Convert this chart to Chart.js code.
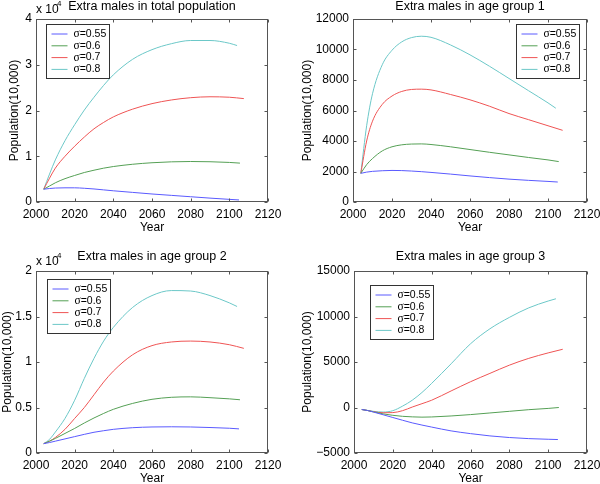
<!DOCTYPE html>
<html>
<head>
<meta charset="utf-8">
<script src="https://cdn.jsdelivr.net/npm/chart.js@4"></script>
<style>
  html, body { margin: 0; padding: 0; background: #fff; overflow: hidden; }
  body { width: 600px; height: 484px; position: relative; }
  canvas { position: absolute; }
</style>
</head>
<body>
<canvas id="c1" width="300" height="260" style="left:0;top:0"></canvas>
<canvas id="c2" width="300" height="260" style="left:300px;top:0"></canvas>
<canvas id="c3" width="300" height="260" style="left:0;top:242px"></canvas>
<canvas id="c4" width="300" height="260" style="left:300px;top:242px"></canvas>
<script>
// years sampled on every curve; the last value of each series sits at its own end year
const years = [2004, 2007, 2010, 2015, 2020, 2025, 2030, 2035, 2040, 2050, 2060, 2070, 2080, 2090, 2100];
const lastYears = [2105, 2105.5, 2107.5, 2104];
const sigmaLabels = ['σ=0.55', 'σ=0.6', 'σ=0.7', 'σ=0.8'];
const yearTicks = [2000, 2020, 2040, 2060, 2080, 2100, 2120];

// extra males in total population
const total055 = [2800, 2950, 3050, 3100, 3100, 3000, 2850, 2650, 2450, 2100, 1750, 1450, 1150, 850, 580, 450];
const total06  = [2800, 3500, 4200, 5100, 5800, 6450, 6950, 7400, 7750, 8250, 8580, 8780, 8850, 8800, 8650, 8500];
const total07  = [2800, 5200, 7400, 10000, 12200, 14200, 16000, 17400, 18600, 20300, 21500, 22300, 22800, 23000, 22900, 22600];
const total08  = [2800, 6100, 9200, 13400, 16900, 20100, 22900, 25500, 27800, 31200, 33300, 34600, 35300, 35300, 34700, 34200];

// extra males in age group 1
const group1_055 = [1880, 1960, 2010, 2050, 2070, 2060, 2030, 1990, 1940, 1830, 1710, 1600, 1500, 1420, 1350, 1310];
const group1_06  = [1880, 2450, 2850, 3350, 3620, 3750, 3800, 3810, 3770, 3620, 3440, 3260, 3090, 2920, 2760, 2650];
const group1_07  = [1880, 4000, 5300, 6400, 6950, 7250, 7380, 7400, 7350, 7050, 6700, 6280, 5800, 5400, 5000, 4700];
const group1_08  = [1880, 5000, 7100, 9000, 9950, 10500, 10780, 10870, 10800, 10300, 9650, 8900, 8100, 7300, 6500, 6150];

// extra males in age group 2
const group2_055 = [1030, 1150, 1300, 1550, 1800, 2050, 2280, 2450, 2600, 2780, 2860, 2880, 2860, 2800, 2720, 2650];
const group2_06  = [1030, 1300, 1600, 2150, 2700, 3300, 3850, 4350, 4800, 5450, 5900, 6120, 6170, 6080, 5950, 5850];
const group2_07  = [1030, 1300, 1700, 2600, 3800, 5000, 6400, 7800, 9000, 10800, 11800, 12200, 12300, 12200, 11900, 11500];
const group2_08  = [1030, 1500, 2300, 3800, 5800, 8200, 10400, 12300, 13800, 16000, 17300, 17850, 17800, 17300, 16500, 16100];

// extra males in age group 3
const group3_055 = [-220, -330, -500, -800, -1100, -1400, -1690, -1930, -2150, -2570, -2870, -3120, -3300, -3420, -3490, -3520];
const group3_06  = [-220, -330, -480, -700, -860, -970, -1030, -1060, -1040, -930, -780, -600, -420, -240, -100, 0];
const group3_07  = [-220, -330, -460, -580, -560, -350, 50, 420, 800, 1820, 2830, 3750, 4650, 5400, 6000, 6400];
const group3_08  = [-220, -320, -420, -500, -350, 150, 800, 1650, 2650, 4800, 7000, 8650, 9900, 10950, 11700, 11950];

const lineColors = ['#5a5aff', '#55a055', '#ef5454', '#6cc8c8'];

Chart.defaults.font.family = '"Liberation Sans", Arial, sans-serif';
Chart.defaults.color = '#000';

function points(vals, i) {
  return vals.map((v, k) => ({ x: k < years.length ? years[k] : lastYears[i], y: v }));
}

// box around the axes with small inward ticks on all four sides
const framePlugin = {
  id: 'frame',
  afterDatasetsDraw(chart) {
    const { ctx, chartArea: a, scales } = chart;
    const L = Math.round(a.left) + 0.5, R = Math.round(a.right) - 0.5;
    const T = Math.round(a.top) + 0.5, B = Math.round(a.bottom) - 0.5;
    ctx.save();
    ctx.strokeStyle = '#555';
    ctx.lineWidth = 1;
    ctx.strokeRect(L, T, R - L, B - T);
    ctx.beginPath();
    scales.x.ticks.forEach(t => {
      const px = Math.round(scales.x.getPixelForValue(t.value)) + 0.5;
      ctx.moveTo(px, B); ctx.lineTo(px, B - 3);
      ctx.moveTo(px, T); ctx.lineTo(px, T + 3);
    });
    scales.y.ticks.forEach(t => {
      const py = Math.round(scales.y.getPixelForValue(t.value)) + 0.5;
      ctx.moveTo(L, py); ctx.lineTo(L + 3, py);
      ctx.moveTo(R, py); ctx.lineTo(R - 3, py);
    });
    ctx.stroke();
    ctx.restore();
  }
};

function legendPlugin(pos) {
  return {
    id: 'boxLegend',
    afterDraw(chart) {
      const { ctx, chartArea: a } = chart;
      const w = 63, h = 54;
      const x0 = Math.round(pos.fromRight !== undefined ? a.right - pos.fromRight - w : a.left + pos.dx) + 0.5;
      const y0 = Math.round(a.top + pos.dy) + 0.5;
      ctx.save();
      ctx.fillStyle = '#fff';
      ctx.fillRect(x0, y0, w, h);
      ctx.strokeStyle = '#333';
      ctx.lineWidth = 1;
      ctx.strokeRect(x0, y0, w, h);
      chart.data.datasets.forEach((ds, i) => {
        const yy = y0 + 9.5 + i * 11.8;
        ctx.strokeStyle = ds.borderColor;
        ctx.beginPath();
        ctx.moveTo(x0 + 5, yy);
        ctx.lineTo(x0 + 21, yy);
        ctx.stroke();
        ctx.fillStyle = '#000';
        ctx.textBaseline = 'middle';
        ctx.font = '11.5px "Liberation Serif", serif';
        ctx.fillText(ds.label.charAt(0), x0 + 27, yy);
        const sw = ctx.measureText(ds.label.charAt(0)).width;
        ctx.font = '10.5px "Liberation Sans", Arial, sans-serif';
        ctx.fillText(ds.label.slice(1), x0 + 27 + sw, yy);
      });
      ctx.restore();
    }
  };
}

const exponentPlugin = {
  id: 'exponent',
  afterDraw(chart) {
    const { ctx, chartArea: a } = chart;
    ctx.save();
    ctx.fillStyle = '#000';
    ctx.textBaseline = 'middle';
    ctx.font = '12px "Liberation Sans", Arial, sans-serif';
    ctx.fillText('x 10', a.left, a.top - 9);
    ctx.font = '8px "Liberation Sans", Arial, sans-serif';
    ctx.fillText('4', a.left + 21, a.top - 15);
    ctx.restore();
  }
};

function makeChart(id, cfg) {
  const plugins = [framePlugin, legendPlugin(cfg.legend)];
  if (cfg.exponent) plugins.push(exponentPlugin);
  const titleTop = cfg.top > 20 ? 8 : 0;
  return new Chart(document.getElementById(id), {
    type: 'line',
    data: {
      datasets: cfg.series.map((vals, i) => ({
        label: sigmaLabels[i],
        data: points(vals, i),
        borderColor: lineColors[i],
        borderWidth: 1,
        pointRadius: 0,
        cubicInterpolationMode: 'monotone',
        fill: false
      }))
    },
    options: {
      responsive: false,
      animation: false,
      layout: { padding: { left: 0, right: 300 - cfg.right, top: 0, bottom: 260 - cfg.bottom - 40 } },
      plugins: {
        legend: { display: false },
        tooltip: { enabled: false },
        title: {
          display: true,
          text: cfg.title,
          fullSize: false,
          color: '#000',
          font: { size: 12.5, weight: 'normal', lineHeight: 1 },
          padding: { top: titleTop, bottom: cfg.top - 12.5 - titleTop }
        }
      },
      scales: {
        x: {
          type: 'linear',
          min: 2000,
          max: 2120,
          afterBuildTicks: s => { s.ticks = yearTicks.map(v => ({ value: v })); },
          ticks: { callback: v => String(v), padding: 5, maxRotation: 0, autoSkip: false, font: { size: 12 } },
          grid: { display: false, drawTicks: false },
          border: { display: false },
          title: { display: true, text: 'Year', font: { size: 12 }, padding: { top: 0, bottom: 6.8 } },
          afterFit: s => { s.height = 40; s.paddingLeft = 0; s.paddingRight = 0; }
        },
        y: {
          type: 'linear',
          min: cfg.yMin,
          max: cfg.yMax,
          ticks: { stepSize: cfg.yStep, callback: cfg.yFmt, padding: 4, font: { size: 12 } },
          grid: { display: false, drawTicks: false },
          border: { display: false },
          title: { display: true, text: 'Population(10,000)', font: { size: 12 }, padding: { top: cfg.yTitlePad, bottom: 0 } },
          afterFit: s => { s.width = cfg.left; s.paddingTop = 0; s.paddingBottom = 0; }
        }
      }
    },
    plugins: plugins
  });
}

const fmtExp = v => String(v / 10000);
const fmtPlain = v => (v < 0 ? '\u2212' + Math.abs(v) : String(v));

makeChart('c1', {
  title: 'Extra males in total population',
  series: [total055, total06, total07, total08],
  yMin: 0, yMax: 40000, yStep: 10000, yFmt: fmtExp, exponent: true,
  left: 36, right: 268, top: 19, bottom: 202, yTitlePad: 7.8,
  legend: { dx: 9.5, dy: 4.5 }
});

makeChart('c2', {
  title: 'Extra males in age group 1',
  series: [group1_055, group1_06, group1_07, group1_08],
  yMin: 0, yMax: 12000, yStep: 2000, yFmt: fmtPlain,
  left: 53, right: 287, top: 19, bottom: 202, yTitlePad: 0.3,
  legend: { fromRight: 8, dy: 5 }
});

makeChart('c3', {
  title: 'Extra males in age group 2',
  series: [group2_055, group2_06, group2_07, group2_08],
  yMin: 0, yMax: 20000, yStep: 5000, yFmt: fmtExp, exponent: true,
  left: 36, right: 268, top: 29, bottom: 211, yTitlePad: 0,
  legend: { dx: 11, dy: 8 }
});

makeChart('c4', {
  title: 'Extra males in age group 3',
  series: [group3_055, group3_06, group3_07, group3_08],
  yMin: -5000, yMax: 15000, yStep: 5000, yFmt: fmtPlain,
  left: 54, right: 287, top: 29, bottom: 211, yTitlePad: 0.3,
  legend: { dx: 16, dy: 14 }
});
</script>
</body>
</html>
